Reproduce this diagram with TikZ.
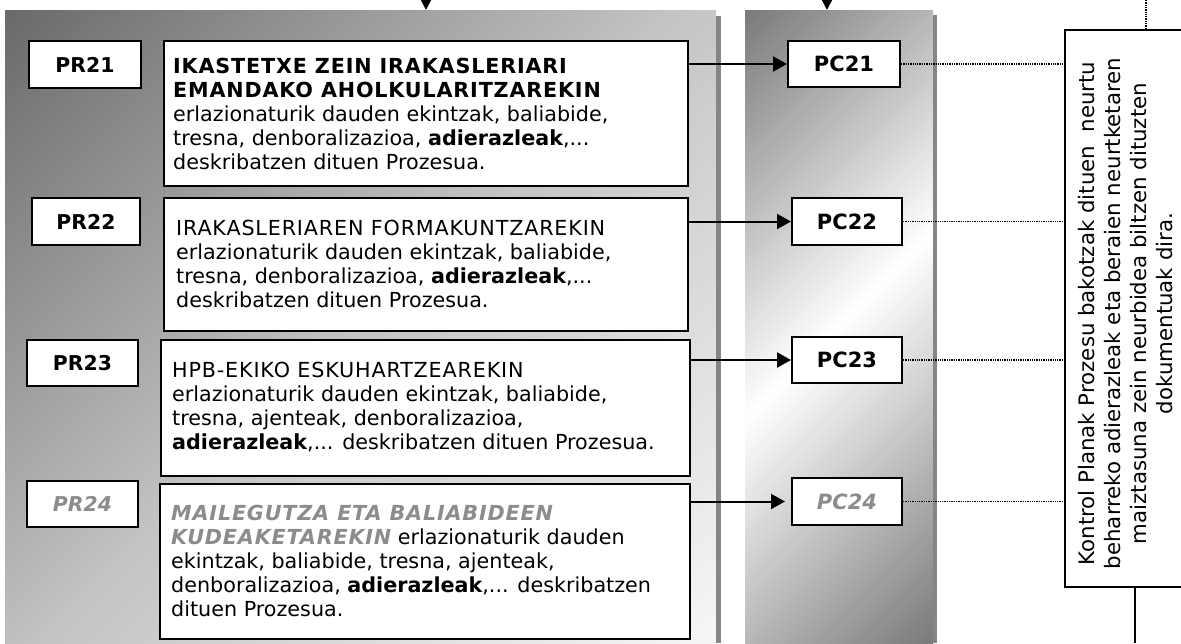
\documentclass[tikz,border=0pt]{standalone}
\usepackage{fontspec}
\setmainfont{DejaVu Sans}[BoldFont={DejaVu Sans Bold}, ItalicFont={DejaVu Sans Oblique}, BoldItalicFont={DejaVu Sans Bold Oblique}]
\usetikzlibrary{arrows.meta}
\definecolor{lpA}{HTML}{6A6A6A}
\definecolor{lpB}{HTML}{C4C4C4}
\definecolor{lpC}{HTML}{F6F6F6}
\definecolor{mpA}{HTML}{7A7A7A}
\definecolor{stripgray}{HTML}{858585}
\definecolor{dimtext}{HTML}{8C8C8C}
\pgfdeclarehorizontalshading{lpshade}{100bp}{color(0bp)=(lpA); color(14.6bp)=(lpA); color(50bp)=(lpB); color(85.4bp)=(lpC); color(100bp)=(lpC)}
\pgfdeclarehorizontalshading{mpshade}{100bp}{color(0bp)=(mpA); color(14.6bp)=(mpA); color(50bp)=(white); color(85.4bp)=(mpA); color(100bp)=(mpA)}
\newcommand{\headsp}[1]{{\addfontfeatures{LetterSpace=4}#1}}
\tikzset{
  panel/.style={shade, draw=none, inner sep=0pt, outer sep=0pt, anchor=north west},
  strip/.style={fill=stripgray, draw=none, inner sep=0pt, outer sep=0pt, anchor=north west},
  boxbase/.style={draw=black, line width=2pt, fill=white, inner sep=0pt, anchor=north west},
  prbox/.style={boxbase, font=\bfseries\fontsize{20.4}{22}\selectfont},
  pcbox/.style={boxbase, font=\bfseries\fontsize{21}{24}\selectfont},
  tbox/.style={boxbase},
  ptext/.style={anchor=north west, inner sep=0pt, align=left, font=\fontsize{20.7}{24}\selectfont},
  ctltextstyle/.style={rotate=90, inner sep=0pt, align=center, font=\fontsize{21.3}{26}\selectfont},
  arr/.style={-{Triangle[length=14pt,width=15pt]}, line width=2pt},
  toparr/.style={-{Triangle[length=13pt,width=13pt]}, line width=2pt},
  dotline/.style={densely dotted, line width=1.3pt},
  solidline/.style={line width=1.6pt},
}
\begin{document}
\begin{tikzpicture}[x=1pt,y=-1pt]
\clip (0,0) rectangle (1181,643);
\fill[white] (0,0) rectangle (1181,643);

% panels
\node[panel, shading=lpshade, shading angle=-45, minimum width=711pt, minimum height=633pt] (lp) at (5,10) {};
\node[strip, minimum width=5pt, minimum height=627pt] (lpstrip) at (716,16) {};
\node[panel, shading=mpshade, shading angle=-45, minimum width=188pt, minimum height=633pt] (mp) at (745,10) {};
\node[strip, minimum width=4pt, minimum height=628pt] (mpstrip) at (933,15) {};

% PR labels
\node[prbox, minimum width=112pt, minimum height=47pt] (pr21) at (28,40) {PR21};
\node[prbox, minimum width=108pt, minimum height=47pt] (pr22) at (31,197) {PR22};
\node[prbox, minimum width=111pt, minimum height=46pt] (pr23) at (26,339) {PR23};
\node[prbox, minimum width=111pt, minimum height=46pt, text=dimtext] (pr24) at (26,480) {\itshape PR24};

% text boxes
\node[tbox, minimum width=524pt, minimum height=145pt] (b1) at (163,40) {};
\node[tbox, minimum width=524pt, minimum height=133pt] (b2) at (163,197) {};
\node[tbox, minimum width=529pt, minimum height=136pt] (b3) at (160,339) {};
\node[tbox, minimum width=530pt, minimum height=155pt] (b4) at (159,483) {};

\node[ptext] (t1) at (173,58) {\textbf{\headsp{IKASTETXE ZEIN IRAKASLERIARI}}\\
\textbf{\headsp{EMANDAKO AHOLKULARITZAREKIN}}\\
erlazionaturik dauden ekintzak, baliabide,\\
tresna, denboralizazioa, \textbf{adierazleak},...\\
deskribatzen dituen Prozesua.};
\node[ptext] (t2) at (176,220) {\headsp{IRAKASLERIAREN FORMAKUNTZAREKIN}\\
erlazionaturik dauden ekintzak, baliabide,\\
tresna, denboralizazioa, \textbf{adierazleak},...\\
deskribatzen dituen Prozesua.};
\node[ptext] (t3) at (172,362) {\headsp{HPB-EKIKO ESKUHARTZEAREKIN}\\
erlazionaturik dauden ekintzak, baliabide,\\
tresna, ajenteak, denboralizazioa,\\
\textbf{adierazleak},... deskribatzen dituen Prozesua.};
\node[ptext] (t4) at (171,505) {{\color{dimtext}\bfseries\itshape\headsp{MAILEGUTZA ETA BALIABIDEEN}}\\
{\color{dimtext}\bfseries\itshape\headsp{KUDEAKETAREKIN}} erlazionaturik dauden\\
ekintzak, baliabide, tresna, ajenteak,\\
denboralizazioa, \textbf{adierazleak},... deskribatzen\\
dituen Prozesua.};

% PC labels
\node[pcbox, minimum width=112pt, minimum height=46pt] (pc21) at (787,40) {PC21};
\node[pcbox, minimum width=110pt, minimum height=47pt] (pc22) at (791,197) {PC22};
\node[pcbox, minimum width=110pt, minimum height=46pt] (pc23) at (791,336) {PC23};
\node[pcbox, minimum width=110pt, minimum height=47pt, text=dimtext] (pc24) at (791,477) {\itshape PC24};

% control plan box
\node[boxbase, minimum width=200pt, minimum height=557pt] (ctl) at (1064,29) {};
\node[ctltextstyle] (ctltext) at (1126,313.5) {Kontrol Planak Prozesu bakotzak dituen\ \ neurtu\\
beharreko adierazleak eta beraien neurtketaren\\
maiztasuna zein neurbidea biltzen dituzten\\
dokumentuak dira.};

% arrows
\draw[arr] (b1.east |- pc21.west) -- (pc21.west);
\draw[arr] (b2.east |- pc22.west) -- (pc22.west);
\draw[arr] (b3.east |- pc23.west) -- (pc23.west);
\draw[arr, shorten >=6pt] (b4.east |- pc24.west) -- (pc24.west);

\coordinate (topA) at (426,-30);
\coordinate (topB) at (827,-30);
\draw[toparr] (topA) -- (topA |- lp.north);
\draw[toparr] (topB) -- (topB |- mp.north);

% dotted links
\draw[dotline] (pc21.east) -- (pc21.east -| ctl.west);
\draw[dotline] (pc22.east) -- (pc22.east -| ctl.west);
\draw[dotline] (pc23.east) -- (pc23.east -| ctl.west);
\draw[dotline] (pc24.east) -- (pc24.east -| ctl.west);

\coordinate (ctltop) at (1146,0);
\coordinate (ctlbot) at (1135,643);
\draw[dotline] (ctltop) -- (ctltop |- ctl.north);
\draw[solidline] (ctl.south -| ctlbot) -- (ctlbot);
\end{tikzpicture}
\end{document}
